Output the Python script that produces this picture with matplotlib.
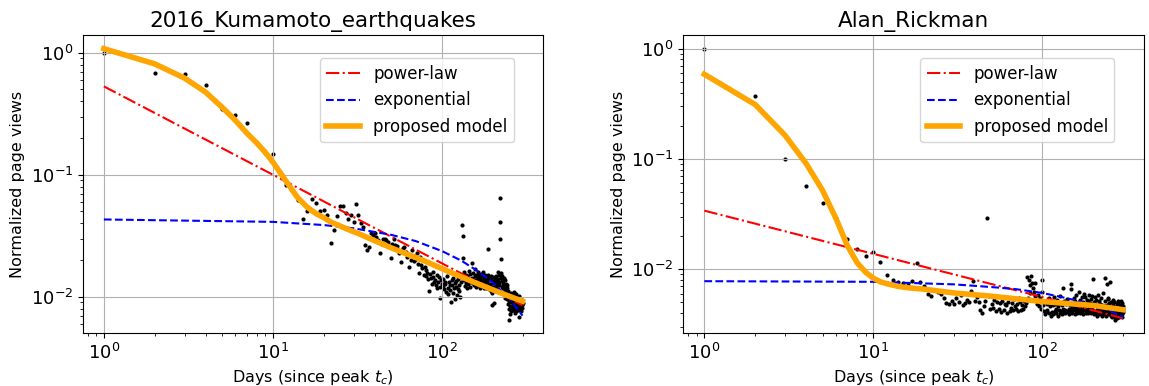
import matplotlib
matplotlib.use("Agg")
import matplotlib.pyplot as plt
import numpy as np

# page views per day (x 1e-4), day 1..300
kuma_views = [
    10000, 6800, 6700, 5470, 3430, 3100, 2670, 1830, 1520, 1490,
    1050, 830, 750, 624, 433, 500, 636, 589, 500, 510,
    470, 275, 354, 460, 550, 550, 485, 430, 470, 410,
    580, 470, 400, 370, 268, 240, 255, 330, 320, 330,
    310, 290, 230, 270, 298, 300, 290, 280, 262, 207,
    272, 300, 265, 263, 242, 228, 192, 238, 252, 258,
    232, 212, 222, 175, 218, 201, 243, 196, 214, 202,
    228, 186, 156, 210, 182, 172, 201, 150, 176, 166,
    148, 158, 139, 112, 155, 142, 128, 160, 146, 133,
    138, 125, 150, 118, 131, 144, 120, 98, 136, 127,
    122, 141, 115, 133, 128, 110, 147, 119, 105, 131,
    124, 113, 90, 138, 126, 108, 142, 117, 95, 129,
    121, 134, 104, 116, 140, 111, 125, 100, 132, 150,
    384, 145, 314, 206, 137, 160, 123, 152, 130, 118,
    148, 135, 127, 162, 141, 120, 155, 138, 131, 190,
    143, 129, 158, 136, 124, 147, 170, 133, 121, 152,
    139, 128, 160, 145, 126, 150, 134, 119, 142, 155,
    131, 148, 123, 137, 160, 127, 144, 118, 135, 152,
    129, 140, 117, 146, 133, 121, 150, 245, 128, 139,
    115, 143, 126, 137, 112, 149, 130, 108, 85, 132,
    145, 120, 134, 89, 127, 141, 116, 131, 124, 147,
    119, 136, 128, 160, 113, 139, 125, 150, 131, 648,
    410, 300, 205, 142, 158, 121, 135, 148, 117, 130,
    126, 143, 110, 120, 137, 97, 115, 128, 104, 122,
    109, 118, 96, 125, 103, 88, 112, 99, 79, 92,
    65, 72, 100, 84, 93, 107, 76, 90, 98, 81,
    95, 86, 104, 78, 91, 110, 83, 97, 74, 88,
    102, 80, 94, 85, 106, 77, 89, 99, 82, 93,
    87, 96, 78, 101, 84, 68, 92, 80, 97, 86,
    79, 90, 83, 95, 76, 88, 81, 92, 85, 89,
]

alan_views = [
    10000, 3730, 1000, 570, 400, 290, 190, 152, 132, 143,
    116, 88, 80, 77, 75, 72, 79, 115, 76, 71,
    60, 57, 65, 62, 60, 55, 49, 48, 52, 48,
    55, 51, 58, 47, 49, 53, 51, 64, 78, 52,
    56, 50, 43, 40, 46, 52, 291, 57, 44, 48,
    45, 53, 42, 50, 44, 49, 41, 52, 43, 48,
    47, 40, 51, 42, 45, 49, 43, 54, 46, 44,
    48, 42, 55, 50, 43, 47, 44, 52, 46, 49,
    86, 55, 80, 72, 61, 87, 75, 68, 62, 57,
    75, 53, 48, 58, 46, 50, 55, 44, 62, 80,
    47, 42, 39, 52, 41, 48, 43, 50, 40, 55,
    46, 38, 51, 41, 47, 39, 56, 42, 48, 40,
    44, 53, 46, 38, 43, 49, 40, 57, 42, 47,
    39, 44, 68, 41, 52, 43, 40, 48, 42, 54,
    50, 41, 44, 39, 47, 42, 74, 66, 45, 40,
    43, 48, 55, 46, 39, 44, 52, 42, 58, 40,
    45, 41, 49, 43, 62, 40, 46, 53, 48, 44,
    41, 56, 43, 50, 39, 45, 60, 56, 44, 40,
    48, 43, 53, 41, 52, 44, 40, 59, 42, 45,
    43, 49, 40, 46, 54, 57, 44, 82, 41, 47,
    39, 51, 42, 48, 40, 56, 53, 41, 46, 38,
    43, 47, 58, 45, 39, 44, 52, 48, 40, 43,
    46, 41, 55, 38, 47, 42, 45, 61, 43, 46,
    41, 44, 39, 83, 52, 46, 40, 45, 38, 74,
    47, 41, 54, 39, 55, 42, 46, 40, 49, 76,
    41, 44, 38, 51, 40, 43, 37, 45, 41, 53,
    39, 47, 46, 38, 43, 40, 50, 37, 41, 35,
    43, 39, 45, 37, 48, 40, 44, 36, 52, 38,
    50, 39, 42, 37, 44, 38, 41, 47, 39, 43,
    52, 40, 38, 45, 37, 49, 39, 44, 41, 46,
]

kuma_pl_days = [1, 10, 100, 300]
kuma_pl = [0.53, 0.100, 0.0188, 0.0085]
kuma_exp_days = [1, 10, 20, 30, 50, 70, 100, 130, 160, 200, 250, 300]
kuma_exp = [0.043, 0.0411, 0.0387, 0.0364, 0.0322, 0.0286, 0.0237, 0.0198, 0.0165, 0.0131, 0.0097, 0.0070]
kuma_mod_days = [1, 2, 3, 4, 5, 6, 7, 8, 9, 10, 11, 12, 14, 16, 18, 20, 22, 25, 28, 32,
                 38, 44, 50, 60, 80, 100, 150, 200, 250, 300]
kuma_mod = [1.08, 0.81, 0.62, 0.475, 0.358, 0.279, 0.220, 0.183, 0.153, 0.127, 0.105, 0.088,
            0.065, 0.054, 0.048, 0.0445, 0.041, 0.038, 0.0355, 0.033, 0.0297, 0.0272, 0.0252,
            0.0228, 0.0195, 0.0170, 0.0134, 0.0114, 0.0101, 0.0092]

alan_pl_days = [1, 10, 100, 300]
alan_pl = [0.034, 0.0138, 0.0056, 0.0036]
alan_exp_days = [1, 10, 30, 50, 70, 100, 130, 160, 200, 250, 300]
alan_exp = [0.0078, 0.0077, 0.0073, 0.0069, 0.0066, 0.0061, 0.0056, 0.0052, 0.0047, 0.0042, 0.0037]
alan_mod_days = [1, 2, 3, 4, 5, 6, 7, 8, 9, 10, 11, 12, 14, 16, 20, 30, 50, 100, 200, 300]
alan_mod = [0.586, 0.311, 0.164, 0.091, 0.052, 0.029, 0.0165, 0.0115, 0.0094, 0.0083, 0.0077,
            0.0074, 0.0070, 0.0068, 0.0066, 0.0061, 0.0057, 0.0051, 0.0047, 0.0043]

panels = [
    ("2016_Kumamoto_earthquakes", kuma_views, kuma_pl_days, kuma_pl,
     kuma_exp_days, kuma_exp, kuma_mod_days, kuma_mod),
    ("Alan_Rickman", alan_views, alan_pl_days, alan_pl,
     alan_exp_days, alan_exp, alan_mod_days, alan_mod),
]

fig, axes = plt.subplots(1, 2, figsize=(11.49, 3.86), dpi=100)
fig.subplots_adjust(left=0.0722, right=0.9956, bottom=0.137, top=0.909, wspace=0.304)

for ax, (title, views, pld, pl, exd, ex, mdd, md) in zip(axes, panels):
    days = np.arange(1, len(views) + 1)
    ax.scatter(days, np.array(views) / 1e4, s=9, color="k", linewidths=0)
    ax.plot(pld, pl, "r-.", lw=1.5, label="power-law")
    ax.plot(exd, ex, "b--", lw=1.5, label="exponential")
    ax.plot(mdd, md, color="orange", lw=4, label="proposed model")
    ax.set_xscale("log")
    ax.set_yscale("log")
    ax.grid(True)
    ax.set_title(title, fontsize=15.5)
    ax.set_xlabel("Days (since peak $t_c$)", fontsize=11.5)
    ax.set_ylabel("Normalized page views", fontsize=11.5)
    ax.tick_params(axis="both", which="major", labelsize=13)
    ax.legend(loc="upper right", bbox_to_anchor=(0.954, 0.95), fontsize=12)

fig.savefig("out.png")
